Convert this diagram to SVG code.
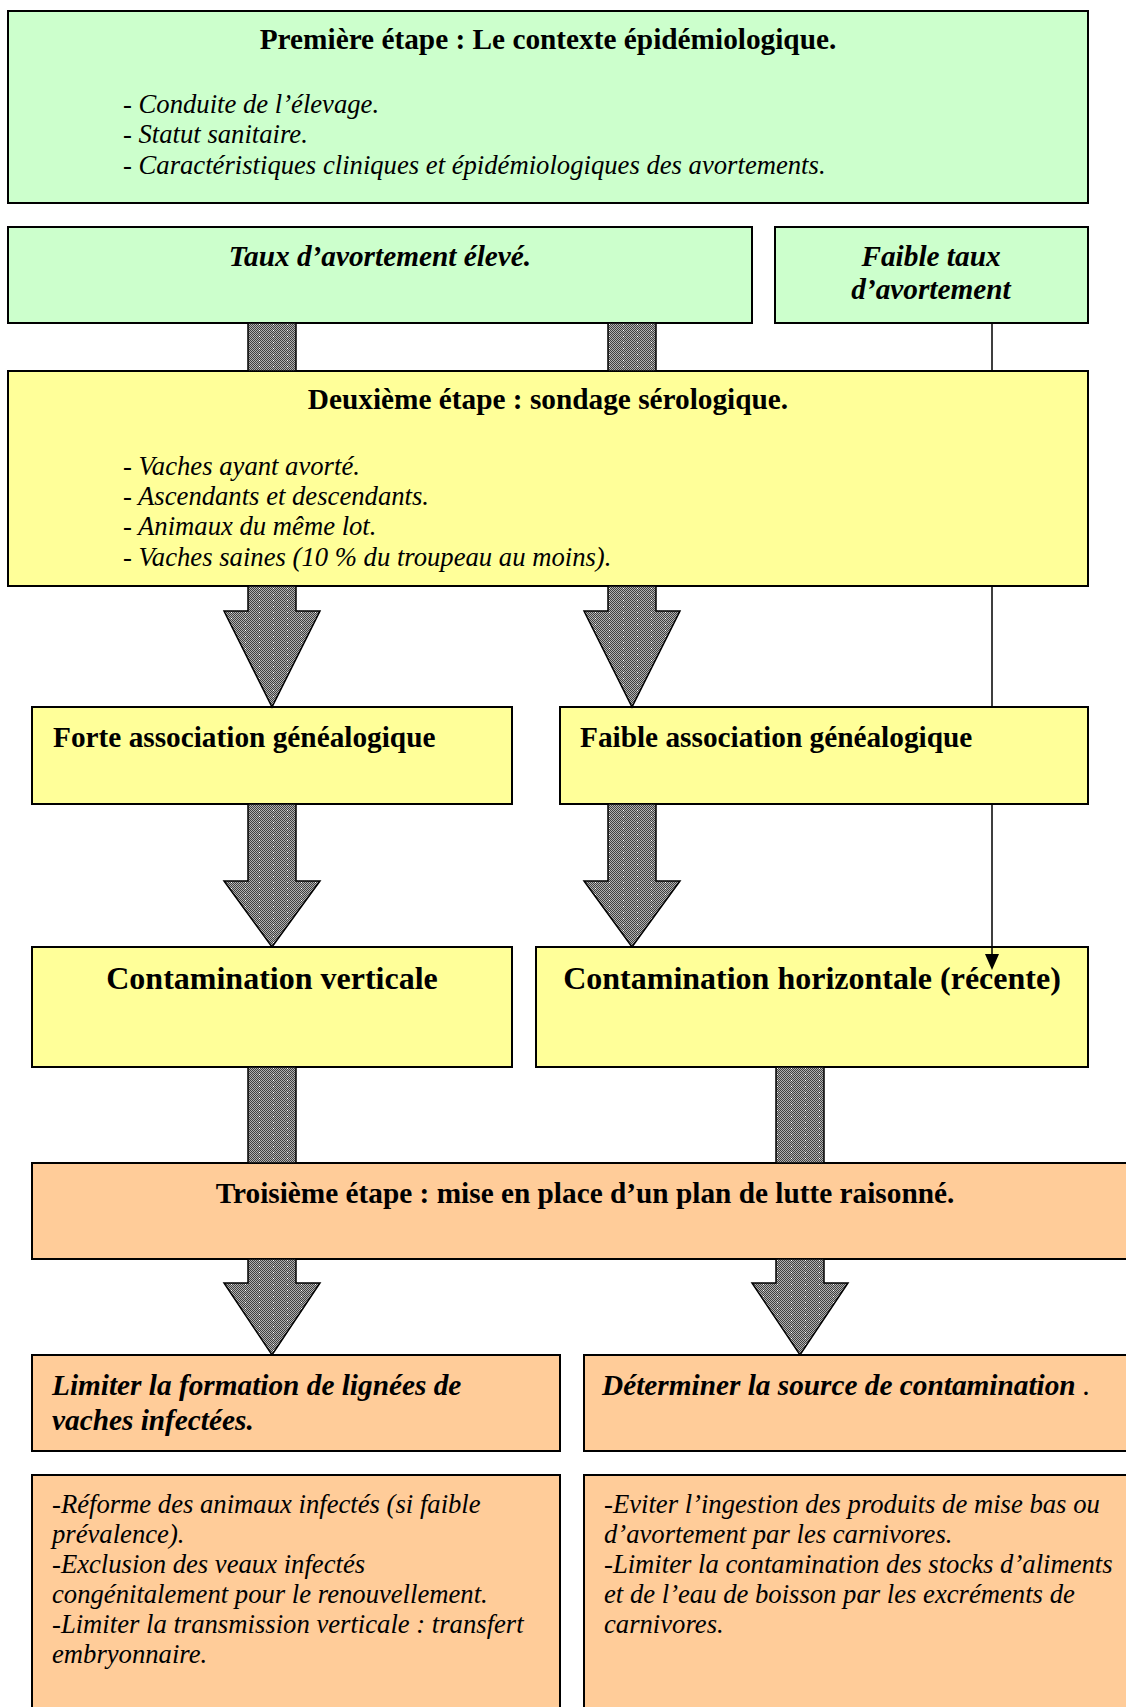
<svg xmlns="http://www.w3.org/2000/svg" width="1126" height="1707" viewBox="0 0 1126 1707">
<style>
  .box { stroke: #000; stroke-width: 2; }
  .g { fill: #CCFFCC; }
  .y { fill: #FFFF99; }
  .o { fill: #FFCC99; }
  text { font-family: "Liberation Serif", "Times New Roman", serif; fill: #000; }
  .t { font-size: 29.3px; font-weight: bold; }
  .tb { font-size: 32px; font-weight: bold; }
  .ti { font-size: 29.3px; font-weight: bold; font-style: italic; }
  .li { font-size: 26.67px; font-style: italic; }
  .mid { text-anchor: middle; }
  .fat { fill: url(#chk); stroke: none; }
  .fatv { fill: url(#vl); stroke: #000; stroke-width: 1.5; }
  .thin { fill: none; stroke: #000; stroke-width: 1.5; }
</style>
<defs>
  <pattern id="chk" width="2" height="2" patternUnits="userSpaceOnUse">
    <rect width="2" height="2" fill="#b0b0b0"/>
    <rect width="1" height="1" fill="#404040"/>
    <rect x="1" y="1" width="1" height="1" fill="#404040"/>
  </pattern>
  <pattern id="vl" x="0" y="0" width="14" height="6" patternUnits="userSpaceOnUse">
    <rect x="7" y="0" width="1" height="1" fill="#ffffff"/>
  </pattern>
</defs>

<g id="n1">
  <rect class="box g" x="8" y="11" width="1080" height="192"/>
  <text class="t mid" x="548" y="49">Première étape : Le contexte épidémiologique.</text>
  <text class="li" x="123" y="113">- Conduite de l’élevage.</text>
  <text class="li" x="123" y="143">- Statut sanitaire.</text>
  <text class="li" x="123" y="174">- Caractéristiques cliniques et épidémiologiques des avortements.</text>
</g>
<g id="n2">
  <rect class="box g" x="8" y="227" width="744" height="96"/>
  <text class="ti mid" x="380" y="266">Taux d’avortement élevé.</text>
</g>
<g id="n3">
  <rect class="box g" x="775" y="227" width="313" height="96"/>
  <text class="ti mid" x="931" y="266">Faible taux</text>
  <text class="ti mid" x="931" y="299">d’avortement</text>
</g>
<g id="n4">
  <rect class="box y" x="8" y="371" width="1080" height="215"/>
  <text class="t mid" x="548" y="409">Deuxième étape : sondage sérologique.</text>
  <text class="li" x="123" y="475">- Vaches ayant avorté.</text>
  <text class="li" x="123" y="505">- Ascendants et descendants.</text>
  <text class="li" x="123" y="535">- Animaux du même lot.</text>
  <text class="li" x="123" y="566">- Vaches saines (10 % du troupeau au moins).</text>
</g>
<g id="n5">
  <rect class="box y" x="32" y="707" width="480" height="97"/>
  <text class="t" x="53" y="747">Forte association généalogique</text>
</g>
<g id="n6">
  <rect class="box y" x="560" y="707" width="528" height="97"/>
  <text class="t" x="580" y="747">Faible association généalogique</text>
</g>
<g id="n7">
  <rect class="box y" x="32" y="947" width="480" height="120"/>
  <text class="tb mid" x="272" y="989">Contamination verticale</text>
</g>
<g id="n8">
  <rect class="box y" x="536" y="947" width="552" height="120"/>
  <text class="tb mid" x="812" y="989">Contamination horizontale (récente)</text>
</g>
<g id="n9">
  <rect class="box o" x="32" y="1163" width="1110" height="96"/>
  <text class="t mid" x="585" y="1203">Troisième étape : mise en place d’un plan de lutte raisonné.</text>
</g>
<g id="n10">
  <rect class="box o" x="32" y="1355" width="528" height="96"/>
  <text class="ti" x="52" y="1395">Limiter la formation de lignées de</text>
  <text class="ti" x="52" y="1430">vaches infectées.</text>
</g>
<g id="n11">
  <rect class="box o" x="584" y="1355" width="560" height="96"/>
  <text class="ti" x="602" y="1395">Déterminer la source de contamination <tspan style="font-weight:normal">.</tspan></text>
</g>
<g id="n12">
  <rect class="box o" x="32" y="1475" width="528" height="250"/>
  <text class="li" x="52" y="1513">-Réforme des animaux infectés (si faible</text>
  <text class="li" x="52" y="1543">prévalence).</text>
  <text class="li" x="52" y="1573">-Exclusion des veaux infectés</text>
  <text class="li" x="52" y="1603">congénitalement pour le renouvellement.</text>
  <text class="li" x="52" y="1633">-Limiter la transmission verticale : transfert</text>
  <text class="li" x="52" y="1663">embryonnaire.</text>
</g>
<g id="n13">
  <rect class="box o" x="584" y="1475" width="560" height="250"/>
  <text class="li" x="604" y="1513">-Eviter l’ingestion des produits de mise bas ou</text>
  <text class="li" x="604" y="1543">d’avortement par les carnivores.</text>
  <text class="li" x="604" y="1573">-Limiter la contamination des stocks d’aliments</text>
  <text class="li" x="604" y="1603">et de l’eau de boisson par les excréments de</text>
  <text class="li" x="604" y="1633">carnivores.</text>
</g>

<g id="connectors">
  <!-- Taux -> Deuxieme -->
  <rect class="fat" x="248" y="323" width="48" height="48"/>
  <rect class="fatv" x="248" y="323" width="48" height="48"/>
  <rect class="fat" x="608" y="323" width="48" height="48"/>
  <rect class="fatv" x="608" y="323" width="48" height="48"/>
  <!-- Deuxieme -> Forte / Faible -->
  <polygon class="fat" points="248,586 296,586 296,611 320,611 272,707 224,611 248,611"/>
  <polygon class="fatv" points="248,586 296,586 296,611 320,611 272,707 224,611 248,611"/>
  <polygon class="fat" points="608,586 656,586 656,611 680,611 632,707 584,611 608,611"/>
  <polygon class="fatv" points="608,586 656,586 656,611 680,611 632,707 584,611 608,611"/>
  <!-- Forte -> verticale, Faible -> horizontale -->
  <polygon class="fat" points="248,804 296,804 296,881 320,881 272,947 224,881 248,881"/>
  <polygon class="fatv" points="248,804 296,804 296,881 320,881 272,947 224,881 248,881"/>
  <polygon class="fat" points="608,804 656,804 656,881 680,881 632,947 584,881 608,881"/>
  <polygon class="fatv" points="608,804 656,804 656,881 680,881 632,947 584,881 608,881"/>
  <!-- Contamination -> Troisieme -->
  <rect class="fat" x="248" y="1067" width="48" height="96"/>
  <rect class="fatv" x="248" y="1067" width="48" height="96"/>
  <rect class="fat" x="776" y="1067" width="48" height="96"/>
  <rect class="fatv" x="776" y="1067" width="48" height="96"/>
  <!-- Troisieme -> Limiter / Determiner -->
  <polygon class="fat" points="248,1259 296,1259 296,1283 320,1283 272,1355 224,1283 248,1283"/>
  <polygon class="fatv" points="248,1259 296,1259 296,1283 320,1283 272,1355 224,1283 248,1283"/>
  <polygon class="fat" points="776,1259 824,1259 824,1283 848,1283 800,1355 752,1283 776,1283"/>
  <polygon class="fatv" points="776,1259 824,1259 824,1283 848,1283 800,1355 752,1283 776,1283"/>
  <!-- Faible taux -> horizontale (thin) -->
  <path class="thin" d="M992,323 V371 M992,586 V707 M992,804 V955"/>
  <polygon points="985,954 999,954 992,970" fill="#000"/>
</g>
</svg>
